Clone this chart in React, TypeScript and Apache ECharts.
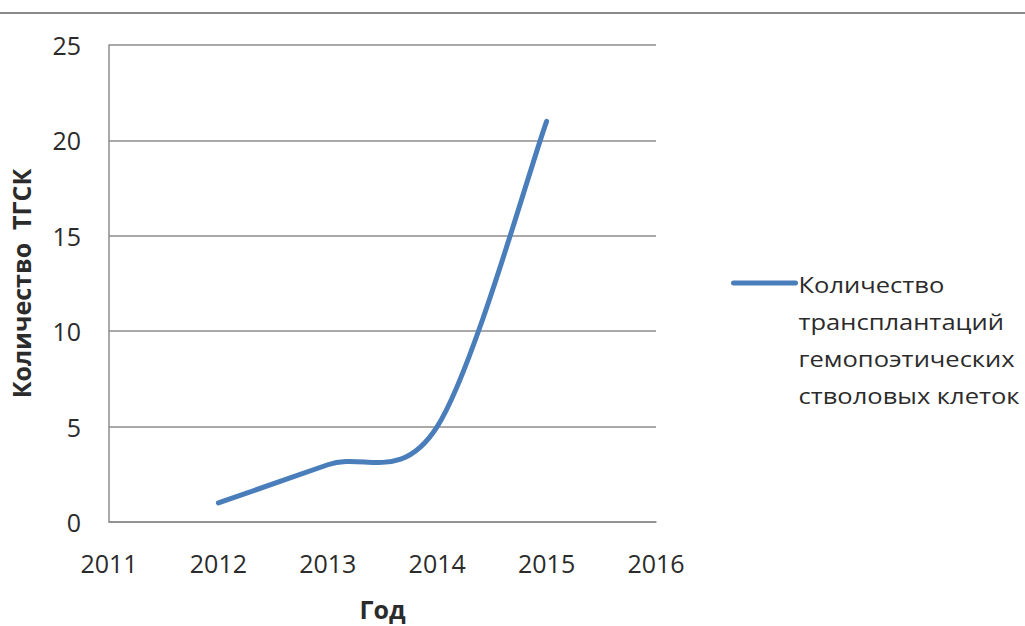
import React, { useEffect, useRef } from "react";
import * as echarts from "echarts";

// Years on the horizontal axis and number of transplants per year
const years = [2012, 2013, 2014, 2015];
const transplants = [1, 3, 5, 21];

const xTicks = { min: 2011, max: 2016, step: 1 };
const yTicks = { min: 0, max: 25, step: 5 };

const seriesName = "Количество трансплантаций гемопоэтических стволовых клеток";
const legendLines = ["Количество", "трансплантаций", "гемопоэтических", "стволовых клеток"];
const xAxisTitle = "Год";
const yAxisTitle = "Количество  ТГСК";

const FONT = "'Open Sans', 'Noto Sans', sans-serif";
const LINE_COLOR = "#4a7ebb";
const GRID_COLOR = "#8c8c8c";
const TEXT_COLOR = "#2b2b2b";

// Smooth curve through all points (Catmull-Rom converted to cubic Bezier segments)
function smoothPath(pts: number[][]): string {
  let d = `M${pts[0][0]},${pts[0][1]}`;
  for (let i = 0; i < pts.length - 1; i++) {
    const p0 = pts[Math.max(i - 1, 0)];
    const p1 = pts[i];
    const p2 = pts[i + 1];
    const p3 = pts[Math.min(i + 2, pts.length - 1)];
    const c1x = p1[0] + (p2[0] - p0[0]) / 6;
    const c1y = p1[1] + (p2[1] - p0[1]) / 6;
    const c2x = p2[0] - (p3[0] - p1[0]) / 6;
    const c2y = p2[1] - (p3[1] - p1[1]) / 6;
    d += ` C${c1x},${c1y} ${c2x},${c2y} ${p2[0]},${p2[1]}`;
  }
  return d;
}

export default function App() {
  const ref = useRef<HTMLDivElement>(null);

  useEffect(() => {
    if (!ref.current) return;
    const chart = echarts.init(ref.current, undefined, { renderer: "svg" });
    const data = years.map((y, i) => [y, transplants[i]]);
    chart.setOption({
      animation: false,
      backgroundColor: "#ffffff",
      grid: { left: 106, right: 369, top: 45, bottom: 99, containLabel: false },
      xAxis: {
        type: "value",
        min: xTicks.min,
        max: xTicks.max,
        interval: xTicks.step,
        name: xAxisTitle,
        nameLocation: "middle",
        nameGap: 74,
        nameTextStyle: { fontFamily: FONT, fontSize: 25, fontWeight: "bold", color: TEXT_COLOR },
        axisLine: { show: true, lineStyle: { color: GRID_COLOR, width: 1.5 } },
        axisTick: { show: false },
        splitLine: { show: false },
        axisLabel: {
          margin: 28,
          fontFamily: FONT,
          fontSize: 25,
          color: TEXT_COLOR,
          formatter: (v: number) => String(v),
        },
      },
      yAxis: {
        type: "value",
        min: yTicks.min,
        max: yTicks.max,
        interval: yTicks.step,
        name: yAxisTitle,
        nameLocation: "middle",
        nameGap: 76,
        nameRotate: 90,
        nameTextStyle: { fontFamily: FONT, fontSize: 25, fontWeight: "bold", color: TEXT_COLOR },
        axisLine: { show: true, lineStyle: { color: GRID_COLOR, width: 1.5 } },
        axisTick: { show: false },
        splitLine: { show: true, lineStyle: { color: GRID_COLOR, width: 1.5 } },
        axisLabel: { margin: 28, fontFamily: FONT, fontSize: 25, color: TEXT_COLOR },
      },
      legend: { show: false },
      series: [
        {
          name: seriesName,
          type: "custom",
          data,
          renderItem: (params: any, api: any) => {
            if (params.dataIndex !== 0) return null;
            const pts = data.map((p) => api.coord(p));
            return {
              type: "path",
              shape: { pathData: smoothPath(pts) },
              style: {
                fill: "none",
                stroke: LINE_COLOR,
                lineWidth: 5,
                lineCap: "round",
                lineJoin: "round",
              },
            };
          },
        },
      ],
      graphic: [
        {
          type: "line",
          shape: { x1: 0, y1: 13, x2: 1025, y2: 13 },
          style: { stroke: "#8a8a8a", lineWidth: 2 },
        },
        {
          type: "group",
          left: 731,
          top: 266,
          children: [
            {
              type: "line",
              shape: { x1: 2, y1: 17, x2: 64, y2: 17 },
              style: { stroke: LINE_COLOR, lineWidth: 5, lineCap: "round" },
            },
            {
              type: "text",
              x: 67,
              y: 0,
              scaleX: 1.16,
              style: {
                text: legendLines.join("\n"),
                font: `22px ${FONT}`,
                lineHeight: 37,
                fill: TEXT_COLOR,
              },
            },
          ],
        },
      ],
    });
    return () => chart.dispose();
  }, []);

  return (
    <div
      ref={ref}
      style={{ position: "fixed", left: 0, top: 0, width: 1025, height: 626 }}
    />
  );
}
